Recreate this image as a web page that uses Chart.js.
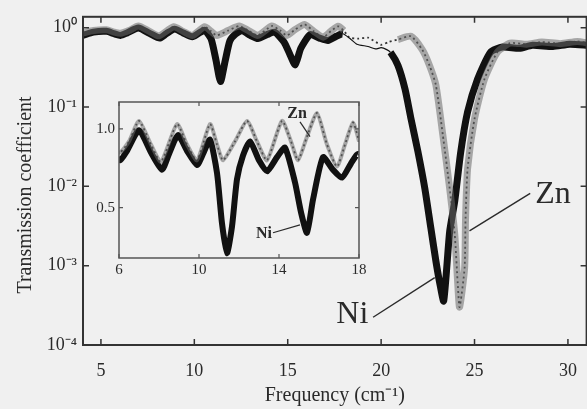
<!DOCTYPE html>
<html lang="en">
<head>
<meta charset="UTF-8">
<title>Transmission coefficient</title>
<script src="https://cdn.jsdelivr.net/npm/chart.js"></script>
<style>
    body { margin: 0; background: #f0f0f0; }
    .wrap { position: relative; width: 587px; height: 409px; overflow: hidden; }
    .wrap canvas { position: absolute; left: 0; top: 0; }
</style>
</head>
<body>
<div class="wrap">
    <canvas id="mainChart" width="592" height="409"></canvas>
    <canvas id="insetChart" width="587" height="409"></canvas>
</div>
<script>
// Ni sample: frequency (cm^-1) and transmission coefficient
const niFreq = [4.05, 4.6, 5.3, 5.7, 6.05, 6.4, 7.0, 7.6, 8.15, 8.5, 8.95, 9.4, 9.9, 10.2, 10.55,
    10.9, 11.15, 11.4, 11.65, 11.9, 12.2, 12.55, 13.0, 13.4, 13.9, 14.3, 14.8, 15.1, 15.4, 15.7,
    16.2, 16.7, 17.15, 17.6, 17.95, 18.3, 18.7, 19.3, 19.7, 20.0, 20.3, 20.5, 20.9, 21.28, 21.6,
    21.97, 22.34, 22.66, 22.93, 23.14, 23.35, 23.67, 23.94, 24.26, 24.63, 25.16, 25.85, 26.5,
    27.4, 28.1, 29.2, 30.1, 31.1];
const niTrans = [0.80, 0.88, 0.90, 0.84, 0.80, 0.86, 0.99, 0.85, 0.74, 0.84, 0.96, 0.86, 0.77, 0.84, 0.93,
    0.72, 0.40, 0.21, 0.38, 0.68, 0.83, 0.92, 0.80, 0.73, 0.82, 0.88, 0.66, 0.47, 0.34, 0.55,
    0.82, 0.74, 0.69, 0.78, 0.84, 0.74, 0.62, 0.58, 0.54, 0.56, 0.53, 0.49, 0.335, 0.168, 0.071,
    0.0274, 0.0094, 0.0030, 0.00115, 0.0006, 0.00036, 0.0027, 0.0065, 0.027, 0.087, 0.224, 0.49, 0.57,
    0.55, 0.60, 0.58, 0.62, 0.60];

// Zn sample
const znFreq = [4.05, 4.6, 5.3, 5.7, 6.05, 6.5, 7.0, 7.6, 8.1, 8.9, 9.4, 9.9, 10.55, 10.9, 11.2,
    11.8, 12.4, 12.9, 13.4, 14.15, 14.6, 14.95, 15.4, 15.9, 16.4, 16.9, 17.3, 17.7, 18.0, 18.3,
    18.8, 19.3, 20.0, 20.4, 20.9, 21.6, 22.2, 22.6, 22.93, 23.3, 23.67, 23.94, 24.1, 24.2, 24.47,
    24.52, 24.63, 25.0, 25.53, 26.22, 26.9, 27.8, 28.6, 29.6, 30.5, 31.1];
const znTrans = [0.86, 0.92, 0.94, 0.88, 0.85, 0.92, 1.05, 0.90, 0.79, 1.03, 0.90, 0.80, 1.03, 0.90, 0.80,
    0.92, 1.05, 0.92, 0.80, 1.05, 0.92, 0.80, 0.95, 1.10, 0.90, 0.76, 0.90, 1.04, 0.92, 0.75,
    0.73, 0.75, 0.61, 0.66, 0.71, 0.78, 0.53, 0.33, 0.19, 0.045, 0.0094, 0.0025, 0.0006, 0.0003, 0.00094,
    0.004, 0.0168, 0.071, 0.224, 0.49, 0.64, 0.62, 0.66, 0.63, 0.67, 0.64];

// tick values
const xTicks = [5, 10, 15, 20, 25, 30];
const yTicks = [1, 0.1, 0.01, 0.001, 0.0001];
const insetXTicks = [6, 10, 14, 18];
const insetYTicks = [0.5, 1.0];

const FONT = "'Liberation Serif', 'Times New Roman', serif";
const INK = '#2a2a2a';

const niPoints = niFreq.map((f, i) => ({x: f, y: niTrans[i]}));
const znPoints = znFreq.map((f, i) => ({x: f, y: znTrans[i]}));

// where Ni is only a thin line, and where the Zn markers vanish (only the dotted line left)
const niThin = [17.95, 20.5];
const znNoBand = [18.0, 21.3];
const inRange = (ctx, r) => ctx.p0.parsed.x >= r[0] && ctx.p1.parsed.x <= r[1];

const sup = {'-': '\u207b', '0': '\u2070', '1': '\u00b9', '2': '\u00b2', '3': '\u00b3', '4': '\u2074'};
function powLabel(v) {
    const e = Math.round(Math.log10(v));
    return '10' + String(e).split('').map(c => sup[c]).join('');
}

// frame with inward tick marks
const framePlugin = {
    id: 'frame',
    beforeDatasetsDraw(chart, args, opts) {
        if (!opts.fill) return;
        const a = chart.chartArea;
        chart.ctx.save();
        chart.ctx.fillStyle = opts.fill;
        chart.ctx.fillRect(a.left, a.top, a.right - a.left, a.bottom - a.top);
        chart.ctx.restore();
    },
    afterDraw(chart, args, opts) {
        const {ctx, chartArea: a, scales} = chart;
        ctx.save();
        ctx.strokeStyle = opts.color;
        ctx.lineWidth = opts.width;
        ctx.strokeRect(a.left, a.top, a.right - a.left, a.bottom - a.top);
        ctx.lineWidth = opts.tickWidth;
        ctx.beginPath();
        scales.x.ticks.forEach(t => {
            const px = scales.x.getPixelForValue(t.value);
            ctx.moveTo(px, a.bottom); ctx.lineTo(px, a.bottom - opts.tick);
            ctx.moveTo(px, a.top); ctx.lineTo(px, a.top + opts.tick);
        });
        scales.y.ticks.forEach(t => {
            const py = scales.y.getPixelForValue(t.value);
            ctx.moveTo(a.left, py); ctx.lineTo(a.left + opts.tick, py);
            ctx.moveTo(a.right, py); ctx.lineTo(a.right - opts.tick, py);
        });
        ctx.stroke();
        ctx.restore();
    }
};

// "Zn" / "Ni" labels with leader lines, placed in data coordinates
const notesPlugin = {
    id: 'notes',
    afterDatasetsDraw(chart, args, opts) {
        const {ctx, scales: {x, y}} = chart;
        ctx.save();
        ctx.strokeStyle = INK;
        ctx.fillStyle = INK;
        ctx.lineWidth = opts.lineWidth;
        ctx.font = opts.font;
        ctx.textAlign = 'center';
        ctx.textBaseline = 'middle';
        opts.items.forEach(n => {
            ctx.beginPath();
            ctx.moveTo(x.getPixelForValue(n.from[0]), y.getPixelForValue(n.from[1]));
            ctx.lineTo(x.getPixelForValue(n.to[0]), y.getPixelForValue(n.to[1]));
            ctx.stroke();
            ctx.fillText(n.text, x.getPixelForValue(n.at[0]), y.getPixelForValue(n.at[1]));
        });
        if (opts.yTitle) {
            ctx.font = opts.yTitle.font;
            ctx.translate(opts.yTitle.x, opts.yTitle.y);
            ctx.rotate(-Math.PI / 2);
            ctx.fillText(opts.yTitle.text, 0, 0);
        }
        ctx.restore();
    }
};

function datasets(niWidth, znBandWidth) {
    return [{
        label: 'Zn band',
        data: znPoints,
        borderColor: 'rgba(105,105,105,0.55)',
        borderWidth: znBandWidth,
        pointRadius: 0,
        tension: 0.2,
        segment: { borderColor: ctx => inRange(ctx, znNoBand) ? 'transparent' : undefined }
    }, {
        label: 'Ni',
        data: niPoints,
        borderColor: '#111',
        borderWidth: niWidth,
        pointRadius: 0,
        tension: 0.2,
        segment: { borderWidth: ctx => inRange(ctx, niThin) ? 1.2 : undefined }
    }, {
        label: 'Zn',
        data: znPoints,
        borderColor: '#333',
        borderWidth: 1.8,
        borderDash: [2, 3],
        pointRadius: 0,
        tension: 0.2
    }];
}

new Chart(document.getElementById('mainChart'), {
    type: 'line',
    data: { datasets: datasets(7, 7) },
    options: {
        responsive: false,
        animation: false,
        layout: { padding: { top: 14, right: 2, left: 0, bottom: 0 } },
        scales: {
            x: {
                type: 'linear',
                min: 4.04,
                max: 31.0,
                afterFit: s => { s.height = 64; },
                afterBuildTicks: s => { s.ticks = xTicks.map(v => ({value: v})); },
                grid: { display: false, drawTicks: false },
                border: { display: false },
                ticks: { color: INK, font: { family: FONT, size: 18 }, padding: 15, autoSkip: false },
                title: {
                    display: true,
                    text: 'Frequency (cm\u207b\u00b9)',
                    color: INK,
                    font: { family: FONT, size: 20 },
                    padding: { top: 0, bottom: 1 }
                }
            },
            y: {
                type: 'logarithmic',
                min: 1e-4,
                max: 1.373,
                afterFit: s => { s.width = 83; },
                afterBuildTicks: s => { s.ticks = yTicks.map(v => ({value: v})); },
                grid: { display: false, drawTicks: false },
                border: { display: false },
                ticks: { color: INK, font: { family: FONT, size: 18 }, padding: 6, autoSkip: false,
                    callback: v => powLabel(v) }
            }
        },
        plugins: {
            legend: { display: false },
            tooltip: { enabled: false },
            frame: { color: '#333', width: 2, tickWidth: 1.5, tick: 6 },
            notes: {
                lineWidth: 1.4,
                font: '32px ' + FONT,
                items: [
                    { text: 'Zn', at: [29.2, 0.0079], from: [27.98, 0.00818], to: [24.73, 0.00274] },
                    { text: 'Ni', at: [18.46, 2.44e-4], from: [19.57, 2.24e-4], to: [22.87, 7.08e-4] }
                ],
                yTitle: { text: 'Transmission coefficient', x: 26, y: 195, font: '20px ' + FONT }
            }
        }
    },
    plugins: [framePlugin, notesPlugin]
});

// inset: linear zoom of 6-18 cm^-1
new Chart(document.getElementById('insetChart'), {
    type: 'line',
    data: { datasets: datasets(6, 4) },
    options: {
        responsive: false,
        animation: false,
        layout: { padding: { top: 102, right: 228, left: 0, bottom: 0 } },
        scales: {
            x: {
                type: 'linear',
                min: 6,
                max: 18,
                afterFit: s => { s.height = 151; },
                afterBuildTicks: s => { s.ticks = insetXTicks.map(v => ({value: v})); },
                grid: { display: false, drawTicks: false },
                border: { display: false },
                ticks: { color: INK, font: { family: FONT, size: 15 }, padding: 3, autoSkip: false }
            },
            y: {
                type: 'linear',
                min: 0.18,
                max: 1.17,
                afterFit: s => { s.width = 119; },
                afterBuildTicks: s => { s.ticks = insetYTicks.map(v => ({value: v})); },
                grid: { display: false, drawTicks: false },
                border: { display: false },
                ticks: { color: INK, font: { family: FONT, size: 15 }, padding: 4, autoSkip: false,
                    callback: v => v.toFixed(1) }
            }
        },
        plugins: {
            legend: { display: false },
            tooltip: { enabled: false },
            frame: { color: '#555', width: 1.5, tickWidth: 1.2, tick: 4, fill: '#f0f0f0' },
            notes: {
                lineWidth: 1.2,
                font: 'bold 16px ' + FONT,
                items: [
                    { text: 'Zn', at: [14.9, 1.095], from: [15.05, 1.044], to: [15.55, 0.95] },
                    { text: 'Ni', at: [13.25, 0.335], from: [13.7, 0.34], to: [15.05, 0.39] }
                ]
            }
        }
    },
    plugins: [framePlugin, notesPlugin]
});
</script>
</body>
</html>
